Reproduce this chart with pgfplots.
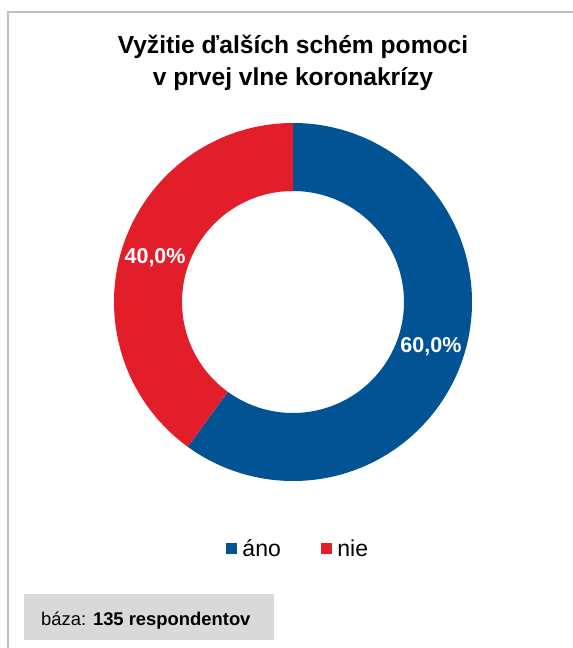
\documentclass[border=0pt]{standalone}
\usepackage{pgfplots}
\pgfplotsset{compat=1.18}
\usepackage{pgfplotstable}
\usepackage{fontspec}
\setmainfont{Liberation Sans}
\definecolor{ano}{RGB}{2,83,147}
\definecolor{nie}{RGB}{227,30,43}
\definecolor{bord}{RGB}{191,191,191}
\definecolor{bazabg}{RGB}{217,217,217}

\pgfplotstableread{
label value
ano 60
nie 40
}\donut
\pgfplotstablegetelem{0}{value}\of\donut \edef\va{\pgfplotsretval}
\pgfplotstablegetelem{1}{value}\of\donut \edef\vb{\pgfplotsretval}
\pgfmathsetmacro\total{\va+\vb}
\pgfmathsetmacro\fa{\va/\total}
\pgfmathsetmacro\fb{\vb/\total}
\pgfmathsetmacro\aend{90-360*\fa}
\pgfmathsetmacro\amidA{90-180*\fa}
\pgfmathsetmacro\amidB{\aend-180*\fb}
\pgfkeys{/pgf/number format/.cd,fixed,fixed zerofill,precision=1,use comma,assume math mode=true}
\pgfmathparse{100*\fa}\pgfmathprintnumberto{\pgfmathresult}{\labA}
\pgfmathparse{100*\fb}\pgfmathprintnumberto{\pgfmathresult}{\labB}

\begin{document}
\begin{tikzpicture}
\path[use as bounding box] (0,0) rectangle (573pt,648pt);
\begin{axis}[at={(0,0)}, anchor=south west, scale only axis,
  width=573pt, height=648pt, xmin=0, xmax=573, ymin=0, ymax=648,
  hide axis, clip=false,
  legend style={at={(axis description cs:0.5201,0.1535)}, anchor=center,
    draw=none, fill=none, legend columns=2,
    font=\fontsize{23}{27}\selectfont,
    /tikz/every even column/.style={column sep=38pt}},
  legend image code/.code={\fill[#1] (0pt,-5.8pt) rectangle (11.6pt,5.8pt); \path (14.6pt,0pt);}]
\addlegendimage{fill=ano, draw=none}
\addlegendentry{áno}
\addlegendimage{fill=nie, draw=none}
\addlegendentry{nie}

% frame
\draw[bord, line width=1.5pt] (axis cs:8,0) -- (axis cs:8,636) -- (axis cs:573,636);

% title
\node[font=\bfseries\fontsize{24.6}{31.5}\selectfont, align=center] at (axis cs:293,585)
  {Vyžitie ďalších schém pomoci\\v prvej vlne koronakrízy};

% donut
\fill[ano] (axis cs:293,346) ++(90:179pt) arc[start angle=90, end angle=\aend, radius=179pt]
  -- ++(\aend:-68pt) arc[start angle=\aend, end angle=90, radius=111pt] -- cycle;
\fill[nie] (axis cs:293,346) ++(\aend:179pt) arc[start angle=\aend, end angle=-270, radius=179pt]
  -- ++(-270:-68pt) arc[start angle=-270, end angle=\aend, radius=111pt] -- cycle;
\path (axis cs:293,346) ++(\amidA:145pt) node[text=white, font=\bfseries\fontsize{21.5}{25}\selectfont] {\labA\%};
\path (axis cs:293,346) ++(\amidB:145pt) node[text=white, font=\bfseries\fontsize{21.5}{25}\selectfont] {\labB\%};

% base box
\fill[bazabg] (axis cs:24,8) rectangle (axis cs:274,54);
\node[anchor=base west, inner sep=0pt, font=\fontsize{18.4}{22}\selectfont] at (axis cs:41,23)
  {báza: \textbf{135 respondentov}};
\end{axis}
\end{tikzpicture}
\end{document}
